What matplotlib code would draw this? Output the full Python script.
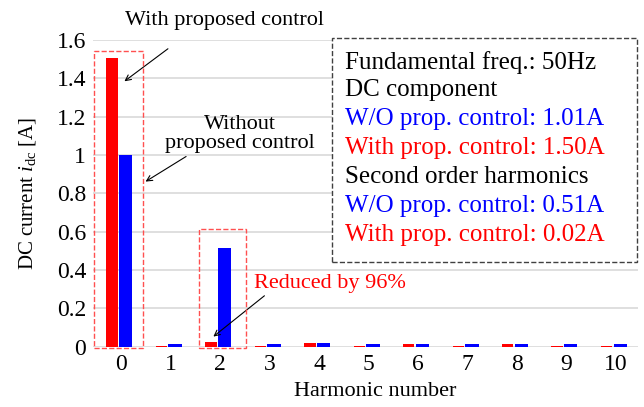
import numpy as np
import matplotlib.pyplot as plt
from matplotlib.patches import Rectangle

plt.rcParams['font.family'] = ['Liberation Serif', 'DejaVu Serif']
plt.rcParams['mathtext.fontset'] = 'custom'
plt.rcParams['mathtext.it'] = 'Liberation Serif:italic'
plt.rcParams['mathtext.rm'] = 'Liberation Serif'

harmonics = list(range(11))
with_ctrl = [1.507, 0.005, 0.025, 0.005, 0.02, 0.005, 0.015, 0.005, 0.015, 0.005, 0.005]
without_ctrl = [0.998, 0.012, 0.516, 0.012, 0.018, 0.012, 0.013, 0.012, 0.013, 0.012, 0.012]
info_lines = [('Fundamental freq.: 50Hz', 'black'),
              ('DC component', 'black'),
              ('W/O prop. control: 1.01A', 'blue'),
              ('With prop. control: 1.50A', 'red'),
              ('Second order harmonics', 'black'),
              ('W/O prop. control: 0.51A', 'blue'),
              ('With prop. control: 0.02A', 'red')]

fig = plt.figure(figsize=(6.44, 4.07), dpi=100)
ax = fig.add_axes([93 / 644, 0.148, (638 - 93) / 644, 0.9017 - 0.148])

x = np.array(harmonics)
ax.bar(x - 0.185, with_ctrl, 0.23, color='#FF0000', zorder=3)
ax.bar(x + 0.09, without_ctrl, 0.27, color='#0000FF', zorder=3)

ax.set_xlim(-0.57, 10.45)
ax.set_ylim(0, 1.6)
ax.set_yticks(np.arange(0, 1.61, 0.2))
ax.set_yticklabels(['0', '0.2', '0.4', '0.6', '0.8', '1', '1.2', '1.4', '1.6'])
ax.set_xticks(harmonics)
ax.grid(axis='y', color='#D9D9D9', linewidth=1.2, zorder=0)
ax.set_axisbelow(True)
for s in ax.spines.values():
    s.set_visible(False)
ax.tick_params(length=0, labelsize=17, pad=5)
ax.set_xlabel('Harmonic number', fontsize=16, labelpad=0)
ax.xaxis.set_label_coords(5.14 / 11.02 + 0.57 / 11.02, -0.115)
ax.set_ylabel('DC current $\\mathit{i}_{\\mathrm{dc}}$ [A]', fontsize=15)
ax.yaxis.set_label_coords(-0.101, 0.5)

# dashed highlight boxes
ax.add_patch(Rectangle((-0.54, -0.008), 0.98, 1.552, fill=False, ls='--',
                       ec='#FF5050', lw=1.0, clip_on=False, zorder=4))
ax.add_patch(Rectangle((1.58, -0.008), 0.95, 0.62, fill=False, ls='--',
                       ec='#FF5050', lw=1.0, clip_on=False, zorder=4))

# annotations
ax.text(2.085, 1.70, 'With proposed control', ha='center', va='center', fontsize=16, clip_on=False)
ax.annotate('', xy=(0.02, 1.376), xytext=(0.99, 1.563),
            arrowprops=dict(arrowstyle='->', color='black', lw=0.8))
ax.text(2.40, 1.109, 'Without\nproposed control', ha='center', va='center', fontsize=16,
        linespacing=1.05)
ax.annotate('', xy=(0.445, 0.854), xytext=(1.36, 1.0),
            arrowprops=dict(arrowstyle='->', color='black', lw=0.8))
ax.text(2.68, 0.33, 'Reduced by 96%', ha='left', va='center', fontsize=16, color='red')
ax.annotate('', xy=(1.82, 0.044), xytext=(2.94, 0.275),
            arrowprops=dict(arrowstyle='->', color='black', lw=0.8))

# info box
ax.add_patch(Rectangle((4.27, 0.442), 6.16, 1.168, fill=True, fc='white', ls='--',
                       ec='#404040', lw=1.0, clip_on=False, zorder=5))
ys = [1.485, 1.339, 1.188, 1.036, 0.885, 0.734, 0.582]
for (txt, col), yy in zip(info_lines, ys):
    ax.text(4.53, yy, txt, color=col, fontsize=18, ha='left', va='center', zorder=6)

fig.savefig('out.png', dpi=100)
